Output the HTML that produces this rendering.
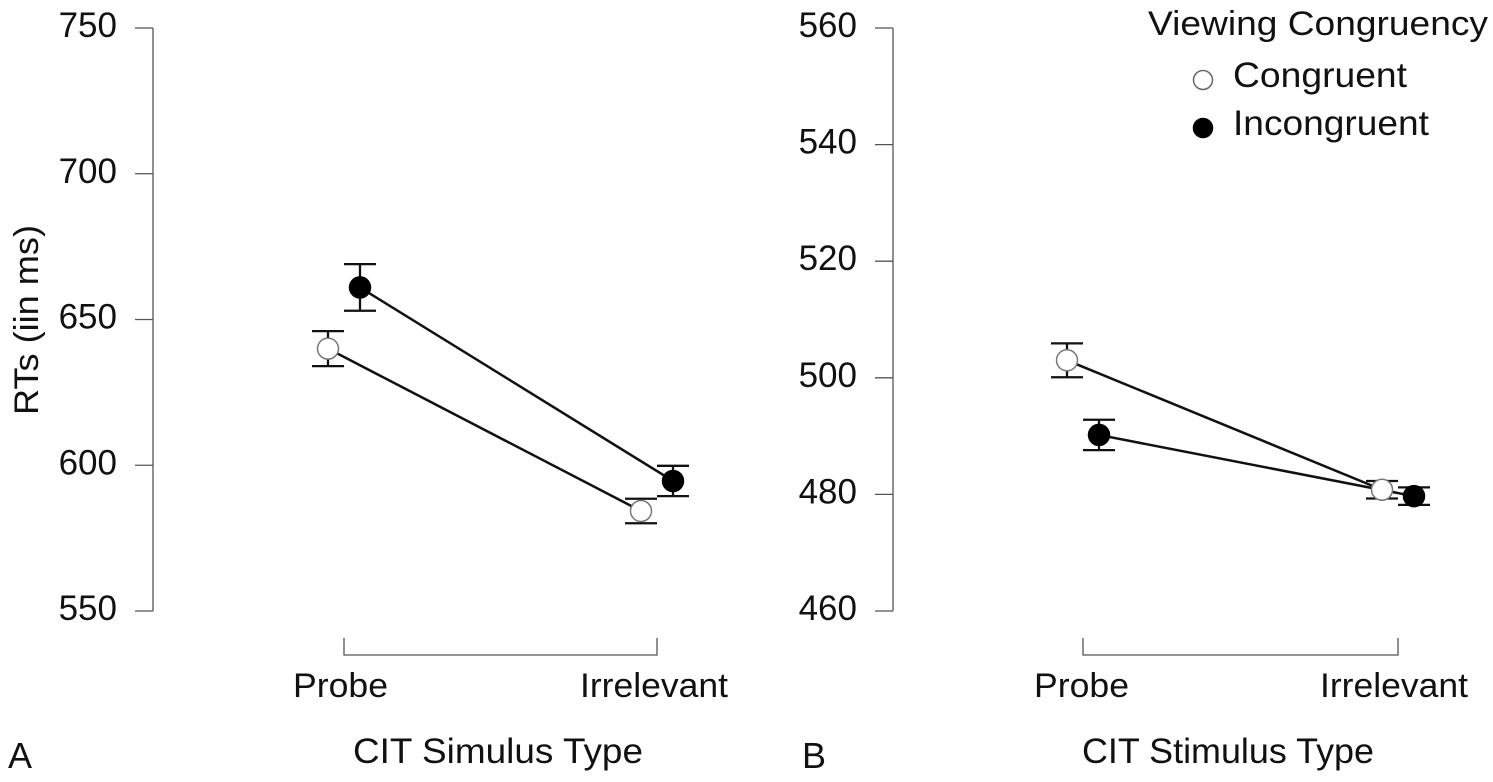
<!DOCTYPE html>
<html><head><meta charset="utf-8"><style>
body{margin:0;background:#fff;}
svg text{font-family:"Liberation Sans",Arial,sans-serif;fill:#111;}
</style></head><body>
<svg id="chart" width="1493" height="777" xmlns="http://www.w3.org/2000/svg">
<g id="root"></g>
</svg>
<script>
const categories=["Probe","Irrelevant"];
const seriesNames=["Congruent","Incongruent"];
const leftTicks=[550,600,650,700,750];
const rightTicks=[460,480,500,520,540,560];
const leftCong=[640,584.3];
const leftCongErr=[6,4.2];
const leftInc=[661,594.6];
const leftIncErr=[8,5.2];
const rightCong=[503,480.8];
const rightCongErr=[2.9,1.5];
const rightInc=[490.2,479.7];
const rightIncErr=[2.6,1.5];

const NS="http://www.w3.org/2000/svg";
const root=document.getElementById('root');
function mk(tag,attrs,parent,text){const e=document.createElementNS(NS,tag);for(const k in attrs)e.setAttribute(k,attrs[k]);if(text!==undefined)e.textContent=text;(parent||root).appendChild(e);return e;}

function panel(cfg){
  const g=mk('g',{});
  
  
  const y=v=>28+(cfg.max-v)/(cfg.max-cfg.min)*583;
  const x=(i,s)=>cfg.x0+i*(cfg.x1-cfg.x0)+(s===0?-16:16);
  const ax=mk('line',{x1:cfg.ax,y1:28,x2:cfg.ax,y2:611,stroke:'#555','stroke-width':1.3},g);
  
  cfg.ticks.forEach(t=>{
    const tl=mk('line',{x1:cfg.ax-18,y1:y(t),x2:cfg.ax,y2:y(t),stroke:'#555','stroke-width':1.3},g);
    
    const tx=mk('text',{x:cfg.ax-36,y:y(t)+9,'text-anchor':'end','font-size':35},g,String(t));
    
  });
  const br=mk('path',{d:`M${cfg.x0} 638V655H${cfg.x1}V638`,fill:'none',stroke:'#555','stroke-width':1.3},g);
  
  categories.forEach((c,i)=>{
    const t=mk('text',{x:cfg.labX[i],y:697,'font-size':34,textLength:cfg.labW[i],lengthAdjust:'spacingAndGlyphs'},g,c);
    
  });
  const t=mk('text',{x:cfg.titleX,y:763,'font-size':35,textLength:cfg.titleW,lengthAdjust:'spacingAndGlyphs'},g,cfg.title);
  
  const l=mk('text',{x:cfg.letterX,y:768,'font-size':36},g,cfg.letter);
  
  const series=[[cfg.cong,cfg.congErr,'#fff'],[cfg.inc,cfg.incErr,'#000']];
  series.forEach((s,si)=>{
    const ln=mk('line',{x1:x(0,si),y1:y(s[0][0]),x2:x(1,si),y2:y(s[0][1]),stroke:'#111','stroke-width':2.5},g);
    
  });
  series.forEach((s,si)=>{
    s[0].forEach((v,i)=>{
      const cx=x(i,si),hi=y(v+s[1][i]),lo=y(v-s[1][i]);
      const eb=mk('path',{d:`M${cx} ${hi}V${lo}M${cx-16} ${hi}H${cx+16}M${cx-16} ${lo}H${cx+16}`,stroke:'#111','stroke-width':2.3,fill:'none'},g);
      
      const c=mk('circle',{cx:cx,cy:y(v),r:10.5,fill:s[2],stroke:si?'#000':'#777','stroke-width':1.5},g);
      
    });
  });
}
panel({name:'panel-a',min:550,max:750,ticks:leftTicks,ax:153,x0:344,x1:657,cong:leftCong,congErr:leftCongErr,inc:leftInc,incErr:leftIncErr,title:'CIT Simulus Type',titleX:353,titleW:290,labX:[293,580],labW:[95,148],letter:'A',letterX:8});
panel({name:'panel-b',min:460,max:560,ticks:rightTicks,ax:893,x0:1083,x1:1398,cong:rightCong,congErr:rightCongErr,inc:rightInc,incErr:rightIncErr,title:'CIT Stimulus Type',titleX:1082,titleW:292,labX:[1034,1320],labW:[95,148],letter:'B',letterX:802});
const yt=mk('text',{x:0,y:0,'text-anchor':'middle','font-size':34,textLength:190,lengthAdjust:'spacingAndGlyphs',transform:'translate(38,320) rotate(-90)'},root,'RTs (iin ms)');

const lg=mk('g',{});

const lt=mk('text',{x:1148,y:35,'font-size':34,textLength:340,lengthAdjust:'spacingAndGlyphs'},lg,'Viewing Congruency');

const legW=[174,196];
seriesNames.forEach((n,i)=>{
  const c=mk('circle',{cx:1203,cy:80+i*48,r:9.5,fill:i?'#000':'#fff',stroke:i?'#000':'#666','stroke-width':1.5},lg);
  
  const t=mk('text',{x:1233,y:87+i*48,'font-size':35,textLength:legW[i],lengthAdjust:'spacingAndGlyphs'},lg,n);
  
});
</script>
</body></html>
